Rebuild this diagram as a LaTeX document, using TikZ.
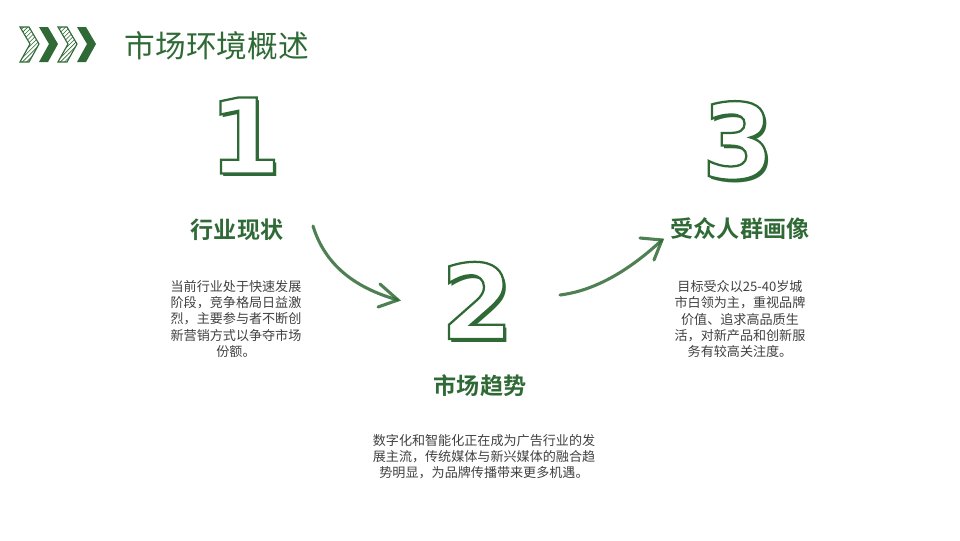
\documentclass[tikz,border=0pt]{standalone}
\usepackage{fontspec}
\setmainfont{Liberation Sans}
\newfontfamily\cjk{Noto Sans CJK SC}
\newfontfamily\cjkbold{Noto Sans CJK SC Bold}
\newfontfamily\numfont{DejaVu Sans}
\usetikzlibrary{patterns}
\definecolor{leaf}{HTML}{2F6A36}
\definecolor{bodytext}{HTML}{404040}
\newcommand{\outlinenum}[1]{\rlap{\kern2.2pt\lower2.2pt\hbox{#1}}{\special{pdf:literal direct 2 Tr 1.6 w 1 g}#1\special{pdf:literal direct 0 Tr}}}

\begin{document}
\begin{tikzpicture}[x=0.025cm,y=-0.025cm,
  title/.style={font=\cjk\fontsize{21.8}{24}\selectfont,text=leaf,anchor=west},
  head/.style={font=\cjkbold\fontsize{16.4}{18}\selectfont,text=leaf},
  body/.style={font=\cjk\fontsize{9.3}{11.4}\selectfont,text=bodytext,align=center},
  num/.style={font=\numfont\bfseries\fontsize{74}{74}\selectfont,text=leaf},
  sketch/.style={leaf,line width=2.2pt,line cap=round,opacity=.85}]
  \useasboundingbox (0,0) rectangle (960,540);

  % header chevrons
  \foreach \cx/\kind in {20/h,39/s,58/h,77/s} {
    \if\kind h
      \draw[leaf,line width=.8pt,pattern={north east lines},pattern color=leaf]
        (\cx,27) -- ++(9,0) -- ++(10,17) -- ++(-10,18) -- ++(-9,0) -- ++(10,-18) -- cycle;
    \else
      \fill[leaf] (\cx,27) -- ++(9,0) -- ++(10,17) -- ++(-10,18) -- ++(-9,0) -- ++(10,-18) -- cycle;
    \fi
  }
  \node[title] (ttl) at (120,46) {市场环境概述};

  % numbers
  \node[num] (n1) at (245,137) {\outlinenum{1}};
  \node[num] (n2) at (477,302) {\outlinenum{2}};
  \node[num] (n3) at (738,142) {\outlinenum{3}};

  % headings and texts
  \node[head] (h1) at (237,230) {行业现状};
  \node[head] (h2) at (480,386) {市场趋势};
  \node[head] (h3) at (740,229) {受众人群画像};
  \node[body] (t1) at (236,319) {当前行业处于快速发展\\阶段，竞争格局日益激\\烈，主要参与者不断创\\新营销方式以争夺市场\\份额。};
  \node[body] (t2) at (484,457) {数字化和智能化正在成为广告行业的发\\展主流，传统媒体与新兴媒体的融合趋\\势明显，为品牌传播带来更多机遇。};
  \node[body] (t3) at (740,319) {目标受众以25-40岁城\\市白领为主，重视品牌\\价值、追求高品质生\\活，对新产品和创新服\\务有较高关注度。};

  % arrows
  \coordinate (a1s) at (313,226);
  \coordinate (a1e) at (398,300);
  \draw[sketch] (a1s) .. controls (325,265) and (355,288) .. (a1e);
  \draw[sketch] (380,284) -- (a1e) -- (378,307);
  \coordinate (a2s) at (560,295);
  \coordinate (a2e) at (662,240);
  \draw[sketch] (a2s) .. controls (600,290) and (635,265) .. (a2e);
  \draw[sketch] (640,238) -- (a2e) -- (654,260);
\end{tikzpicture}
\end{document}
